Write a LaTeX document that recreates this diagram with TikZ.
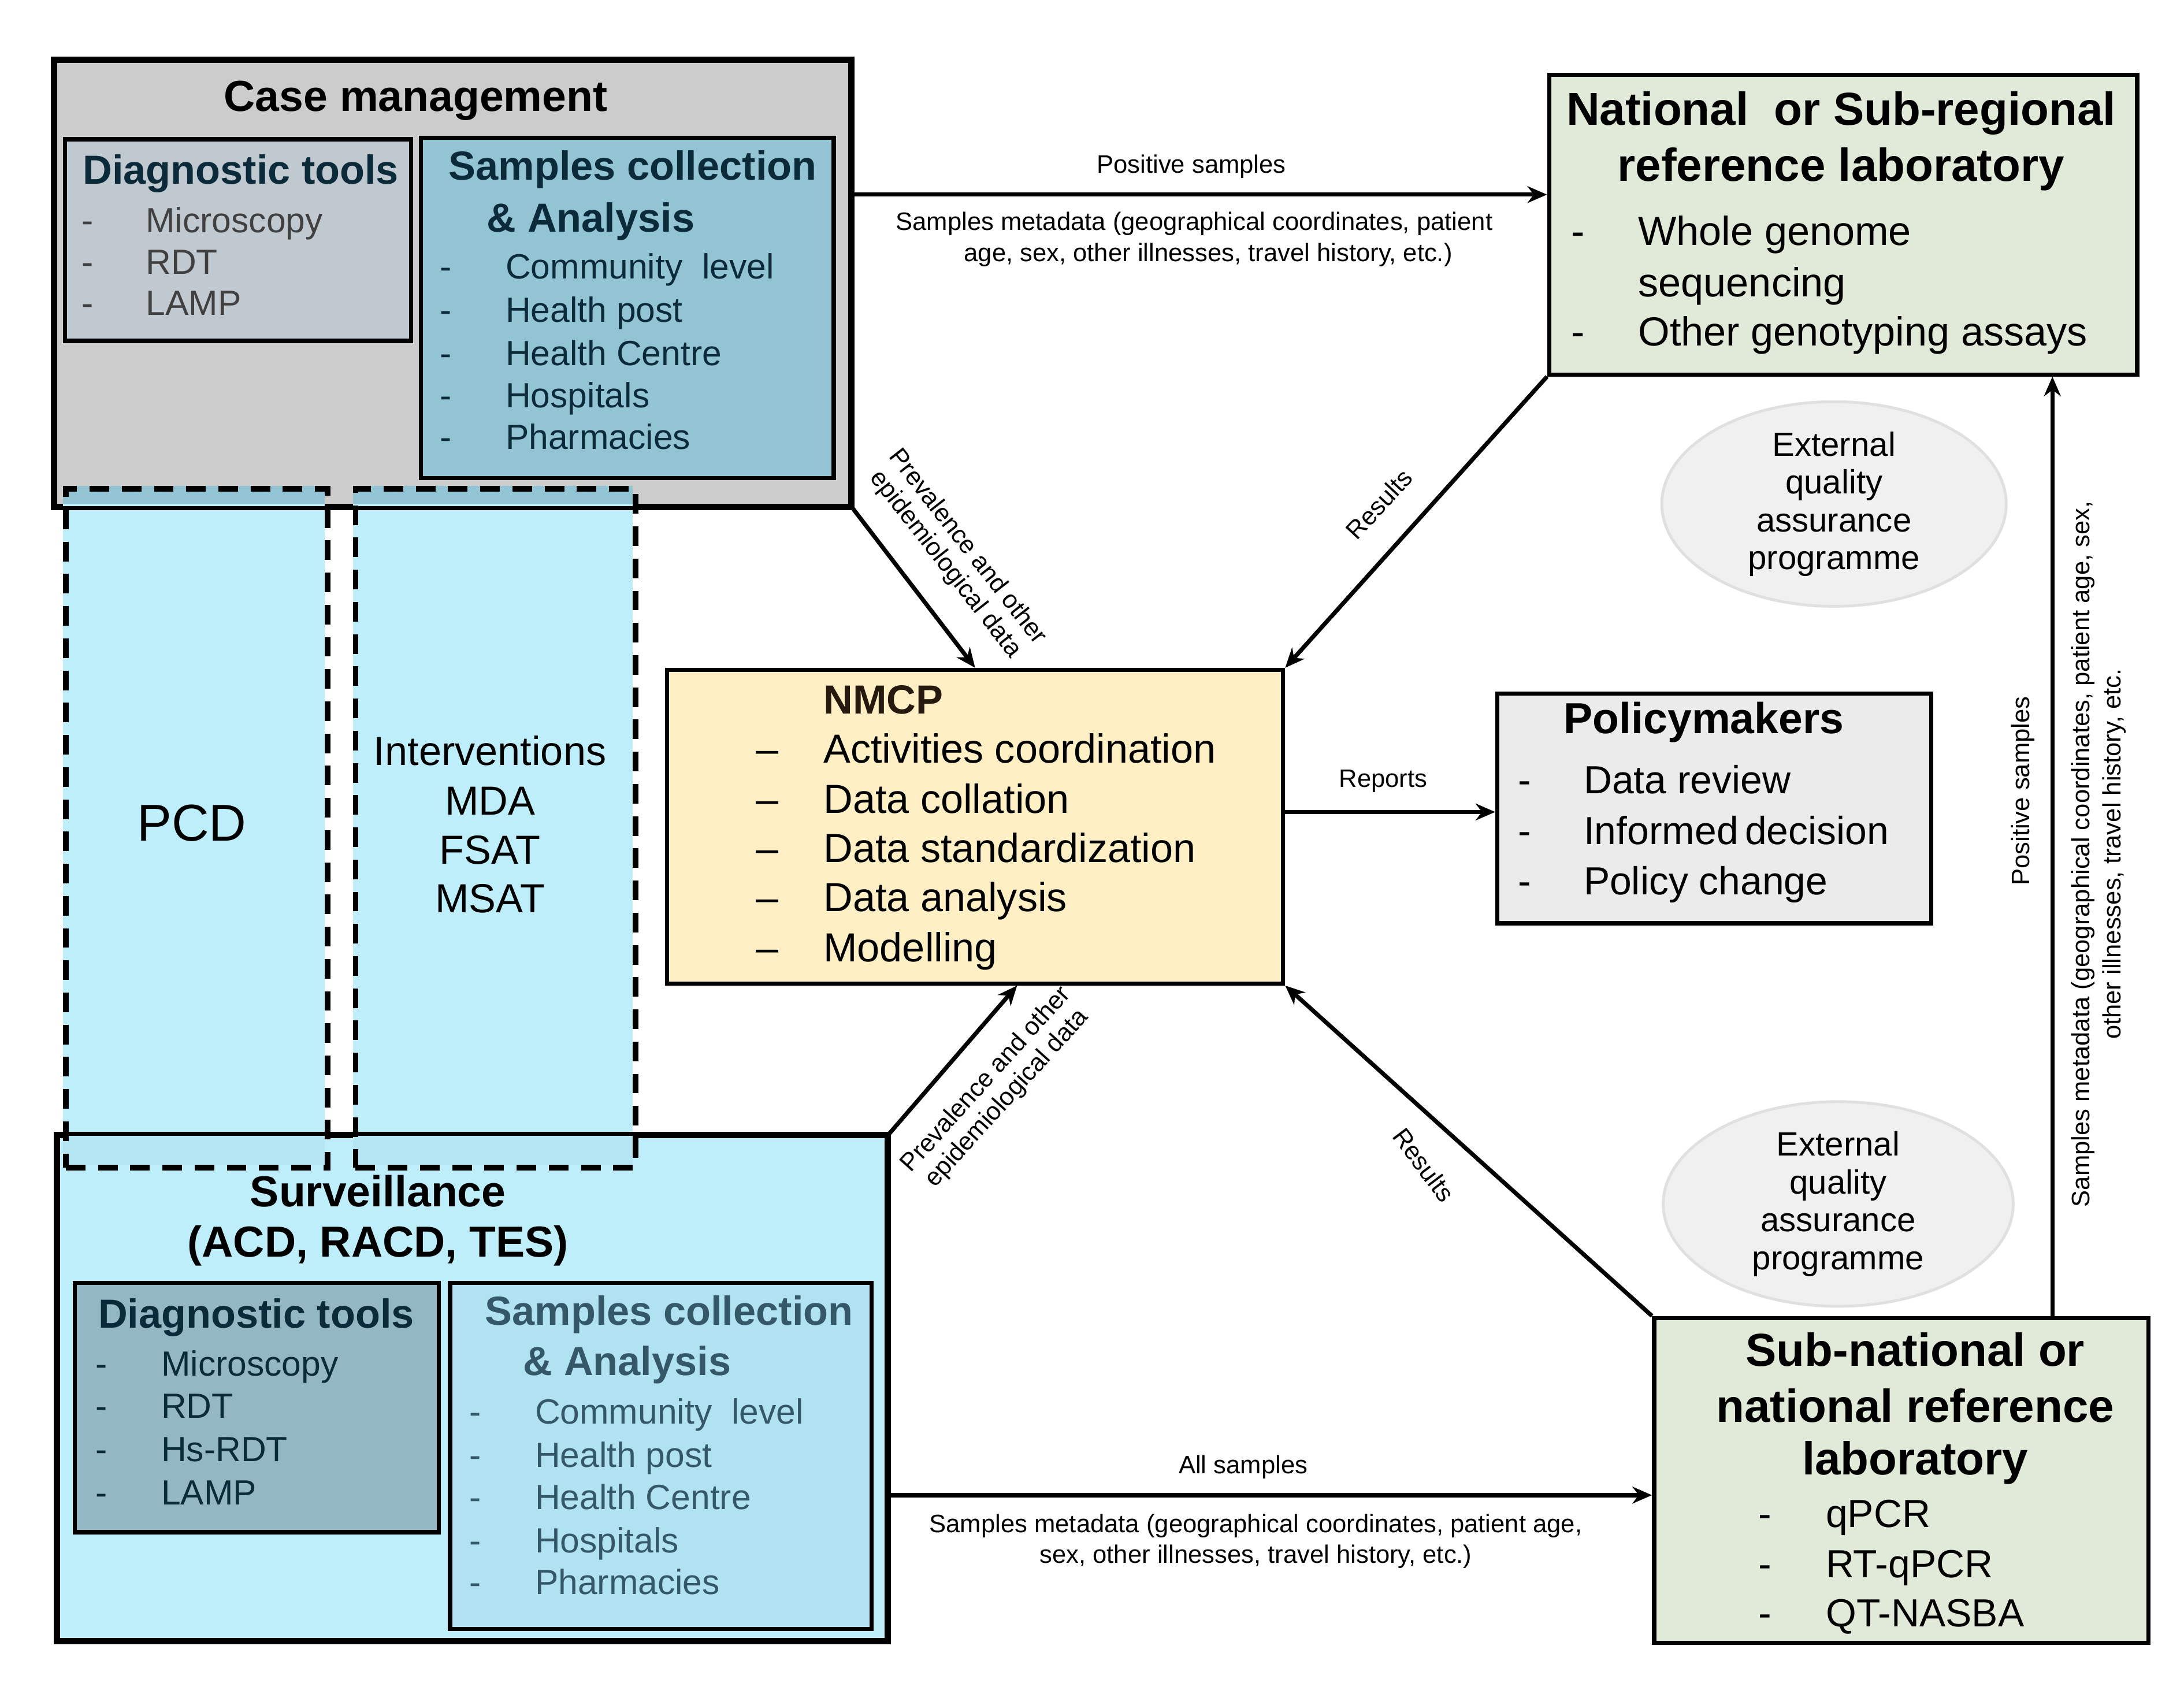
\documentclass[tikz,border=0pt]{standalone}
\usepackage{fontspec}
\setmainfont{Liberation Sans}
\usetikzlibrary{calc,arrows.meta,shapes.geometric}
\definecolor{cmgray}{HTML}{CCCCCC}
\definecolor{dtgray}{HTML}{C0C8D0}
\definecolor{samp}{HTML}{93C4D3}
\definecolor{lblue}{HTML}{BEEEFA}
\definecolor{dt2}{HTML}{93B8C4}
\definecolor{samp2}{HTML}{B0E2F2}
\definecolor{nmcpc}{HTML}{FFEFC4}
\definecolor{labc}{HTML}{E1EAD8}
\definecolor{polc}{HTML}{EBEBEB}
\definecolor{dark}{HTML}{0B2A3A}
\definecolor{itemg}{HTML}{404040}
\newcommand{\fs}[1]{\fontsize{#1}{#1}\selectfont}
\begin{document}
\begin{tikzpicture}[x=1pt,y=-1pt,
 box/.style={draw=black,line width=3pt,anchor=north west,inner sep=0pt},
 dbox/.style={draw=black,line width=4pt,dash pattern=on 14pt off 9pt},
 arr/.style={line width=3pt,-{Stealth[length=14pt,width=12pt]}},
 item/.style={anchor=base west,inner sep=0pt,font=\fs{25},yshift=-9pt},
 small/.style={inner sep=0pt,font=\fs{18}},
 ell/.style={ellipse,draw=black!12,line width=2pt,fill=black!6,font=\fs{24},align=center,inner sep=0pt}]
\useasboundingbox (0,0) rectangle (1560,1202);
\fill[white] (0,0) rectangle (1560,1202);
% main boxes
\node[box,fill=cmgray,minimum width=568pt,minimum height=318pt] (cm) at (38,42) {};
\node[box,fill=lblue,minimum width=592pt,minimum height=360pt] (surv) at (40,810) {};
% dashed boxes fill
\fill[lblue] (45,347) rectangle (232,832);
\fill[lblue] (252,347) rectangle (452,832);
\fill[samp] (45,347) rectangle (232,360);
\fill[samp] (252,347) rectangle (452,360);
\fill[lblue!80!samp] (45,810) rectangle (232,832);
\fill[lblue!80!samp] (252,810) rectangle (452,832);
\draw[line width=3pt] (cm.north west) rectangle (cm.south east);
\draw[line width=3pt] (surv.north west) rectangle (surv.south east);
\node[dbox,minimum width=187pt,minimum height=485pt,anchor=north west] (pcd) at (45,347) {};
\node[dbox,minimum width=200pt,minimum height=485pt,anchor=north west] (intv) at (252,347) {};
\node[font=\fs{37}] at (137,588) {PCD};
\node[font=\fs{29},align=center,text depth=0pt] at (350,536) {Interventions};
\node[font=\fs{29}] at (350,572) {MDA};
\node[font=\fs{29}] at (350,607) {FSAT};
\node[font=\fs{29}] at (350,642) {MSAT};
% case management
\node[font=\bfseries\fs{31}] at (297,72) {Case management};
\node[box,fill=dtgray,minimum width=247pt,minimum height=144pt] (dt1) at (45,98) {};
\node[font=\bfseries\fs{29},text=dark] at (172,124) {Diagnostic tools};
\foreach \t/\y in {Microscopy/157,RDT/187,LAMP/216}{
 \node[item,text=itemg] at (58,\y) {-}; \node[item,text=itemg] at (104,\y) {\t};}
\node[box,fill=samp,minimum width=295pt,minimum height=243pt] (sc1) at (299,97) {};
\node[font=\bfseries\fs{29},text=dark] at (452,121) {Samples collection};
\node[font=\bfseries\fs{29},text=dark] at (422,158) {\& Analysis};
\foreach \t/\y in {Community\ \ level/190,Health post/221,Health Centre/252,Hospitals/282,Pharmacies/312}{
 \node[item,text=dark] at (314,\y) {-}; \node[item,text=dark] at (361,\y) {\t};}
% surveillance
\node[font=\bfseries\fs{31}] at (270,851) {Surveillance};
\node[font=\bfseries\fs{31}] at (270,890) {(ACD, RACD, TES)};
\node[box,fill=dt2,minimum width=260pt,minimum height=178pt] (dt2) at (52,915) {};
\node[font=\bfseries\fs{29},text=dark] at (183,941) {Diagnostic tools};
\foreach \t/\y in {Microscopy/974,RDT/1004,Hs-RDT/1035,LAMP/1066}{
 \node[item,text=dark] at (68,\y) {-}; \node[item,text=dark] at (115,\y) {\t};}
\node[box,fill=samp2,minimum width=301pt,minimum height=247pt] (sc2) at (320,915) {};
\node[font=\bfseries\fs{29},text=dark!70!samp] at (478,939) {Samples collection};
\node[font=\bfseries\fs{29},text=dark!70!samp] at (448,975) {\& Analysis};
\foreach \t/\y in {Community\ \ level/1008,Health post/1039,Health Centre/1069,Hospitals/1100,Pharmacies/1130}{
 \node[item,text=dark!70!samp] at (335,\y) {-}; \node[item,text=dark!70!samp] at (382,\y) {\t};}
% NMCP
\node[box,fill=nmcpc,minimum width=440pt,minimum height=224pt] (nmcp) at (475,477) {};
\node[anchor=west,inner sep=0pt,font=\bfseries\fs{29},text=black!80!brown] at (588,500) {NMCP};
\foreach \t/\y in {Activities coordination/535,Data collation/571,Data standardization/606,Data analysis/641,Modelling/677}{
 \node[item,font=\fs{29},yshift=-1pt] at (540,\y) {--}; \node[item,font=\fs{29},yshift=-1pt] at (588,\y) {\t};}
% policymakers
\node[box,fill=polc,minimum width=310pt,minimum height=164pt] (pol) at (1068,494) {};
\node[font=\bfseries\fs{31}] at (1217,516) {Policymakers};
\foreach \t/\y in {Data review/558,Informed\,decision/594,Policy change/630}{
 \node[item,font=\fs{28}] at (1084,\y) {-}; \node[item,font=\fs{28}] at (1131,\y) {\t};}
% national lab
\node[box,fill=labc,minimum width=420pt,minimum height=214pt] (nat) at (1105,52) {};
\node[font=\bfseries\fs{33}] at (1315,81) {National\ \ or Sub-regional};
\node[font=\bfseries\fs{33}] at (1315,121) {reference laboratory};
\node[item,font=\fs{29}] at (1122,166) {-}; \node[item,font=\fs{29}] at (1170,166) {Whole genome};
\node[item,font=\fs{29}] at (1170,203) {sequencing};
\node[item,font=\fs{29}] at (1122,238) {-}; \node[item,font=\fs{29}] at (1170,238) {Other genotyping assays};
% sub-national lab
\node[box,fill=labc,minimum width=353pt,minimum height=232pt] (sub) at (1180,940) {};
\node[font=\bfseries\fs{33}] at (1368,964) {Sub-national or};
\node[font=\bfseries\fs{33}] at (1368,1004) {national reference};
\node[font=\bfseries\fs{33}] at (1368,1045) {laboratory};
\foreach \t/\y in {qPCR/1082,RT-qPCR/1118,QT-NASBA/1153}{
 \node[item,font=\fs{28}] at (1256,\y) {-}; \node[item,font=\fs{28}] at (1304,\y) {\t};}
% ellipses
\node[ell,minimum width=246pt,minimum height=124pt] (e1) at (1310,360) {External\\[3pt]quality\\[3pt]assurance\\[3pt]programme};
\node[ell,minimum width=250pt,minimum height=140pt] (e2) at (1313,860) {External\\[3pt]quality\\[3pt]assurance\\[3pt]programme};
% arrows
\draw[arr] (cm.east |- 0,139) -- (nat.west |- 0,139);
\node[small] at (851,119) {Positive samples};
\node[small] at (853,160) {Samples metadata (geographical coordinates, patient};
\node[small] at (863,182) {age, sex, other illnesses, travel history, etc.)};
\draw[arr] (cm.south east) -- (nmcp.north);
\node[small,rotate=-52,align=center] at (683,397) {Prevalence and other\\[2pt]epidemiological data};
\draw[arr] (nat.south west) -- (nmcp.north east);
\node[small,rotate=47] at (985,360) {Results};
\draw[arr] (nmcp.east |- 0,580) -- (pol.west |- 0,580);
\node[small] at (988,558) {Reports};
\draw[arr] (surv.north east) -- ($(nmcp.south)+(30,0)$);
\node[small,rotate=48,align=center] at (712,778) {Prevalence and other\\[2pt]epidemiological data};
\draw[arr] (sub.north west) -- (nmcp.south east);
\node[small,rotate=-53] at (1017,832) {Results};
\draw[arr] (surv.east |- 0,1068) -- (sub.west |- 0,1068);
\node[small] at (888,1048) {All samples};
\node[small] at (897,1090) {Samples metadata (geographical coordinates, patient age,};
\node[small] at (897,1112) {sex, other illnesses, travel history, etc.)};
\draw[arr] (sub.north -| 1466,0) -- (nat.south -| 1466,0);
\node[small,rotate=90] at (1445,565) {Positive samples};
\node[small,rotate=90,align=center] at (1499,610) {Samples metadata (geographical coordinates, patient age, sex,\\[4pt]other illnesses, travel history, etc.};
\end{tikzpicture}
\end{document}
